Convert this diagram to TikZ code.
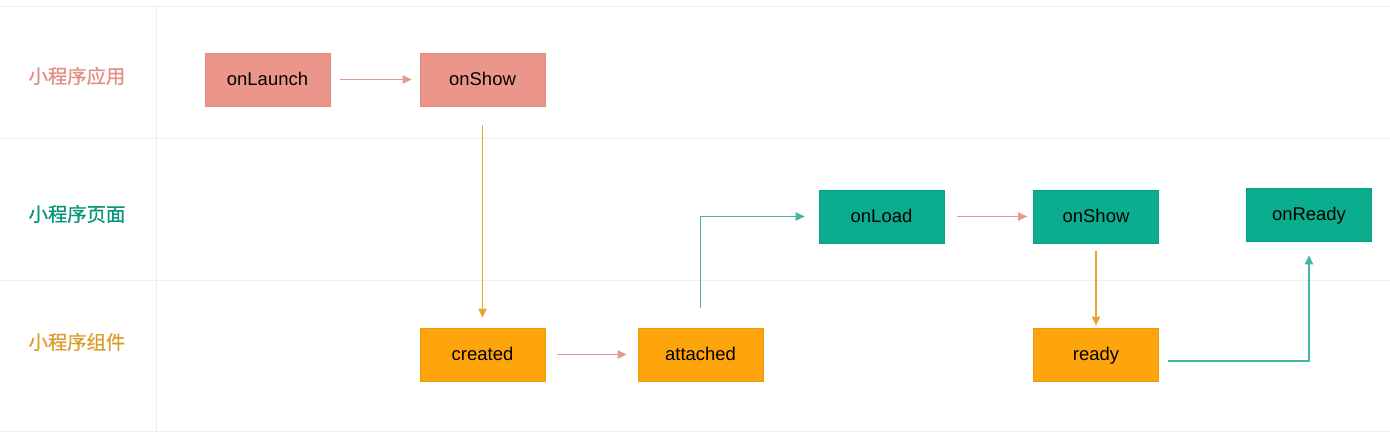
\documentclass[tikz,border=0pt]{standalone}
\usepackage{fontspec}
\setmainfont{Liberation Sans}
\newfontfamily\cjk[FakeBold=0.8]{Noto Sans CJK SC}
\usetikzlibrary{arrows.meta}
\definecolor{appred}{HTML}{EC968B}
\definecolor{pagegreen}{HTML}{0AAE8E}
\definecolor{compor}{HTML}{FEA40C}
\definecolor{arrred}{HTML}{E39A90}
\definecolor{arrgreen}{HTML}{45B4A3}
\definecolor{arror}{HTML}{E8A532}
\definecolor{gridgray}{HTML}{EEEEEE}

\begin{document}
\begin{tikzpicture}[x=0.2mm,y=-0.2mm,
  box/.style={minimum width=25mm,minimum height=10.6mm,inner sep=0pt,text height=8.4pt,text depth=1.2pt,
    font=\fontsize{10.5}{12}\selectfont,text=black},
  app/.style={box,fill=appred,draw=appred!92!black,line width=0.3pt},
  page/.style={box,fill=pagegreen,draw=pagegreen!92!black,line width=0.3pt},
  comp/.style={box,fill=compor,draw=compor!92!black,line width=0.3pt},
  arr/.style={-{Triangle[length=1.8mm,width=1.6mm]},line width=1.05pt},
  lbl/.style={font=\cjk\fontsize{11}{13}\selectfont}]
  \useasboundingbox (0,0) rectangle (1390,440);
  % rows and first column
  \draw[gridgray,line width=0.4pt] (0,6) -- (1390,6) (0,138) -- (1390,138)
    (0,280) -- (1390,280) (0,431) -- (1390,431) (156,6) -- (156,431);
  \node[lbl,text=appred!95!black] (lapp) at (77,76) {小程序应用};
  \node[lbl,text=pagegreen!85!black] (lpage) at (77,214) {小程序页面};
  \node[lbl,text=arror!95!black] (lcomp) at (77,342) {小程序组件};
  % boxes
  \node[app]  (launch) at (267.5,79.5) {onLaunch};
  \node[app]  (ashow) at (482.5,79.5) {onShow};
  \node[comp] (created) at (482.5,354.5) {created};
  \node[comp] (attached) at (700.5,354.5) {attached};
  \node[page] (load) at (881.5,216.5) {onLoad};
  \node[page] (pshow) at (1096,216.5) {onShow};
  \node[page] (pready) at (1309,214.5) {onReady};
  \node[comp] (cready) at (1096,354.5) {ready};
  % arrows
  \draw[arr,arrred,shorten <=2mm,shorten >=1.6mm] (launch) -- (ashow);
  \draw[arr,arror,shorten <=3.8mm,shorten >=2mm] (ashow) -- (created);
  \draw[arr,arrred,shorten <=2.4mm,shorten >=2.2mm] (created) -- (attached);
  \draw[arr,arrgreen,shorten <=4mm,shorten >=2.8mm] (attached.north) |- (load.west);
  \draw[arr,arrred,shorten <=2.6mm,shorten >=1.2mm] (load) -- (pshow);
  \draw[arr,arror,shorten <=1.6mm,shorten >=0.4mm] (pshow) -- (cready);
  \draw[arr,arrgreen,shorten <=1.8mm,shorten >=2.8mm] ([yshift=-1.3mm]cready.east) -| (pready.south);
\end{tikzpicture}
\end{document}
